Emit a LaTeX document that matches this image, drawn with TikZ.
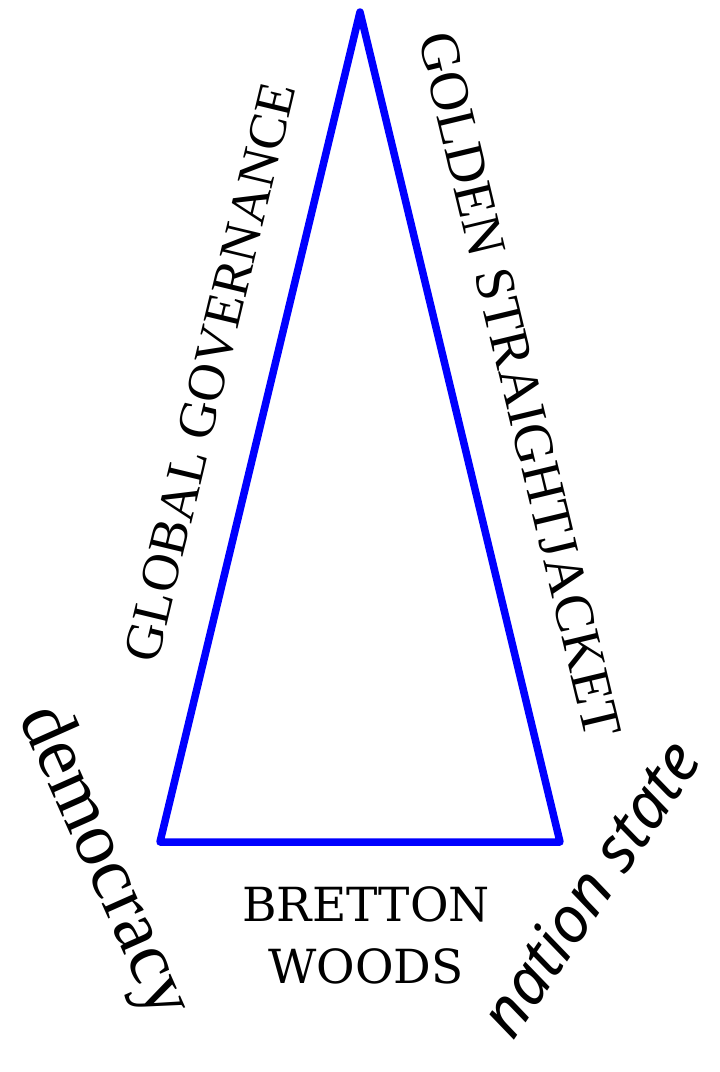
\documentclass[tikz,border=0pt]{standalone}
\usepackage{fontspec}
\setmainfont{Liberation Serif}
\newfontfamily\brettonfont{DejaVu Serif}
\newfontfamily\nationfont{Noto Sans}
\usetikzlibrary{positioning}
\definecolor{triBlue}{HTML}{0000FF}

\begin{document}
\begin{tikzpicture}[x=1pt,y=-1pt,
  side/.style={draw=triBlue,line width=7.5pt,line join=round},
  edgelabel/.style={inner sep=0pt,font=\fontsize{53}{60}\selectfont},
  cornerlabel/.style={inner sep=0pt}]
  \useasboundingbox (0,0) rectangle (720,1072);
  % triangle corners
  \coordinate (top) at (360,12);
  \coordinate (left) at (160,842);
  \coordinate (right) at (560,842);
  \draw[side] (top) -- (left) -- (right) -- cycle;
  % side labels
  \node[edgelabel,rotate=76.5] (global) at (210,372) {GLOBAL GOVERNANCE};
  \node[edgelabel,rotate=-76.5,font=\fontsize{55.5}{60}\selectfont]
    (golden) at (520,385) {GOLDEN STRAIGHTJACKET};
  \node[inner sep=0pt,align=center,font=\brettonfont\fontsize{47}{62}\selectfont]
    (bretton) at (366,935) {BRETTON\\WOODS};
  % corner labels
  \node[cornerlabel,rotate=-66,font=\rmfamily\fontsize{76}{80}\selectfont]
    (democracy) at (103,862) {democracy};
  \node[cornerlabel,rotate=56,font=\nationfont\itshape\fontsize{64}{70}\selectfont]
    (nation) at (589,888) {nation state};
\end{tikzpicture}
\end{document}
